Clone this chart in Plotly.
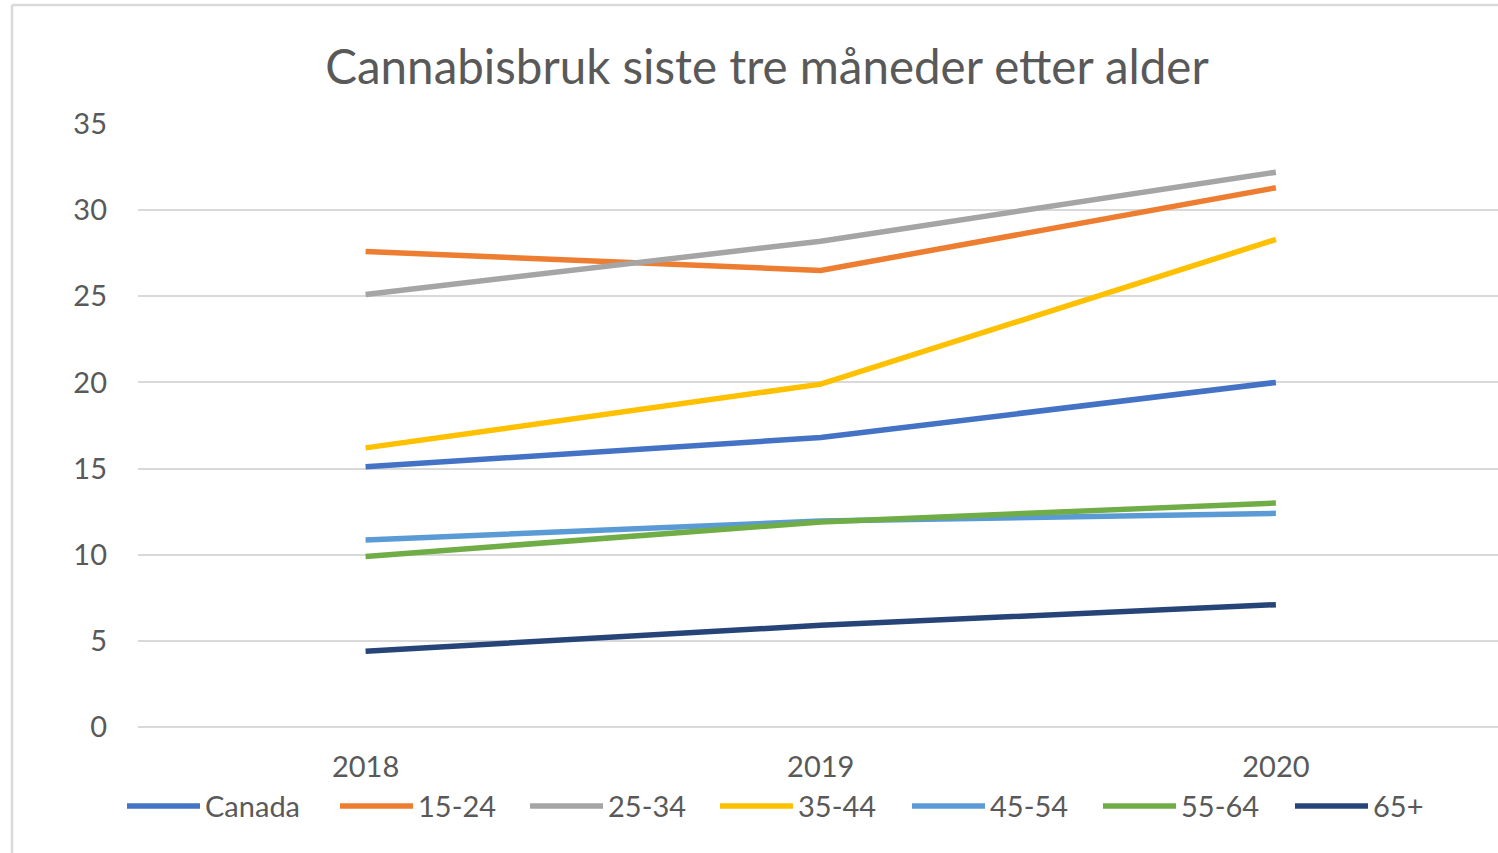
import plotly.graph_objects as go

years = ["2018", "2019", "2020"]
series_names = ["Canada", "15-24", "25-34", "35-44", "45-54", "55-64", "65+"]
canada = [15.1, 16.8, 20.0]
age_15_24 = [27.6, 26.5, 31.3]
age_25_34 = [25.1, 28.2, 32.2]
age_35_44 = [16.2, 19.9, 28.3]
age_45_54 = [10.85, 11.95, 12.4]
age_55_64 = [9.9, 11.9, 13.0]
age_65p = [4.4, 5.9, 7.1]
y_ticks = [0, 5, 10, 15, 20, 25, 30, 35]

values = [canada, age_15_24, age_25_34, age_35_44, age_45_54, age_55_64, age_65p]
colors = ["#4472C4", "#ED7D31", "#A5A5A5", "#FFC000", "#5B9BD5", "#70AD47", "#264478"]

W, H = 1498, 853
L, R, T, B = 138, 0, 124, 853 - 728
pw, ph = W - L - R, H - T - B

def px_x(px):
    return (px - L) / pw

def px_y(py):
    return (H - B - py) / ph

FONT = "Lato"
TXT = "#595959"

fig = go.Figure()
for name, vals, col in zip(series_names, values, colors):
    fig.add_trace(go.Scatter(x=[0, 1, 2], y=vals, mode="lines", name=name,
                             line=dict(color=col, width=5.5), showlegend=False))

shapes = []
annotations = []
# manual legend (Excel style, long line keys)
starts = [127, 340, 530, 720, 912, 1103, 1295]
ly = 806
for name, col, sx in zip(series_names, colors, starts):
    shapes.append(dict(type="line", xref="paper", yref="paper",
                       x0=px_x(sx), x1=px_x(sx + 73), y0=px_y(ly), y1=px_y(ly),
                       line=dict(color=col, width=5.5)))
    annotations.append(dict(x=px_x(sx + 76), y=px_y(ly), xref="paper", yref="paper",
                            text=name, showarrow=False, xanchor="left", yanchor="middle",
                            font=dict(family=FONT, size=29, color=TXT)))

# chart border (top and left visible)
shapes.append(dict(type="line", xref="paper", yref="paper", x0=px_x(12), x1=px_x(1510),
                   y0=px_y(5), y1=px_y(5), line=dict(color="#d9d9d9", width=2.5)))
shapes.append(dict(type="line", xref="paper", yref="paper", x0=px_x(12), x1=px_x(12),
                   y0=px_y(5), y1=px_y(870), line=dict(color="#d9d9d9", width=2.5)))

fig.update_layout(
    width=W, height=H,
    margin=dict(l=L, r=R, t=T, b=B),
    paper_bgcolor="white", plot_bgcolor="white",
    title=dict(text="Cannabisbruk siste tre måneder etter alder", x=767 / W,
               xanchor="center", y=1 - 67 / H, yanchor="middle",
               font=dict(family=FONT, size=47.5, color=TXT)),
    xaxis=dict(tickmode="array", tickvals=[0, 1, 2], ticktext=years,
               range=[-0.5, 2.488], showgrid=False, zeroline=False, showline=False,
               ticks="", ticklabelstandoff=19,
               tickfont=dict(family=FONT, size=29, color=TXT)),
    yaxis=dict(range=[-0.06, 35], tickvals=y_ticks, showgrid=True, gridcolor="#d9d9d9",
               gridwidth=2, zeroline=False, showline=False, ticks="",
               ticklabelstandoff=30, tickfont=dict(family=FONT, size=29, color=TXT)),
    shapes=shapes, annotations=annotations, showlegend=False,
)

fig.write_html("out.html", config={"displayModeBar": False},
               post_script="document.body.style.margin='0';document.body.style.overflow='hidden';")
